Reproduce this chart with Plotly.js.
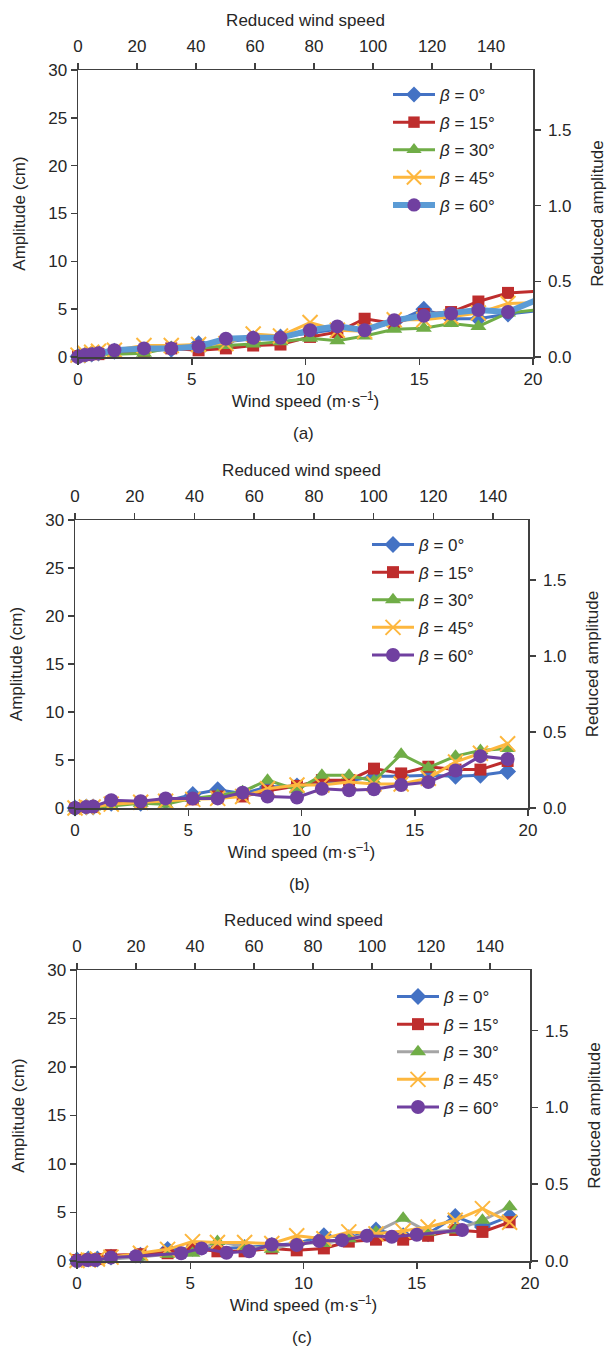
<!DOCTYPE html>
<html>
<head>
<meta charset="utf-8">
<script src="https://cdn.plot.ly/plotly-3.0.1.min.js"></script>
<style>
  html, body { margin: 0; padding: 0; background: #fff; }
  #chart { width: 608px; height: 1350px; }
</style>
</head>
<body>
<div id="chart"></div>
<script>
// ---- Data: amplitude (cm) against wind speed (m/s) for five yaw angles ----
const seriesNames = ['<i>β</i> = 0°', '<i>β</i> = 15°', '<i>β</i> = 30°', '<i>β</i> = 45°', '<i>β</i> = 60°'];

// (a)
const windA = [0, 0.3, 0.6, 0.9, 1.6, 2.9, 4.1, 5.3, 6.5, 7.7, 8.9, 10.2, 11.4, 12.6, 13.9, 15.2, 16.4, 17.6, 18.9, 20.4];
const ampA0  = [0.05, 0.2, 0.3, 0.4, 0.6, 0.7, 0.8, 1.4, 1.6, 1.9, 2.1, 2.5, 2.9, 2.9, 3.6, 5.0, 4.0, 4.0, 4.5, 4.9];
const ampA15 = [0.1, 0.2, 0.3, 0.3, 0.5, 0.6, 0.9, 0.7, 0.9, 1.2, 1.3, 2.1, 2.6, 4.0, 3.5, 4.5, 4.7, 5.8, 6.7, 6.9];
const ampA30 = [0, 0.1, 0.2, 0.3, 0.3, 0.4, 1.0, 0.9, 1.2, 1.35, 1.6, 1.95, 1.7, 2.2, 2.9, 3.0, 3.5, 3.2, 4.6, 5.0];
const ampA45 = [0.2, 0.4, 0.5, 0.6, 0.7, 1.2, 1.2, 1.3, 1.4, 2.4, 2.2, 3.6, 2.8, 2.7, 3.9, 3.9, 4.2, 4.6, 5.6, 5.7];
const ampA60 = [0, 0.2, 0.3, 0.4, 0.7, 0.9, 0.9, 1.1, 1.9, 2.0, 2.0, 2.8, 3.2, 2.8, 3.85, 4.3, 4.55, 4.9, 4.7, 6.2];

// (b)
const windB = [0, 0.5, 0.8, 1.6, 2.9, 4.0, 5.2, 6.3, 7.4, 8.5, 9.8, 10.9, 12.1, 13.2, 14.4, 15.6, 16.8, 17.9, 19.1];
const ampB0  = [0, 0.1, 0.1, 0.5, 0.5, 0.7, 1.4, 1.9, 1.5, 2.2, 2.3, 2.6, 2.8, 3.3, 3.3, 3.4, 3.3, 3.4, 3.8];
const ampB15 = [0, 0.1, 0.1, 0.6, 0.6, 0.8, 0.9, 1.2, 1.2, 1.8, 2.3, 2.9, 2.9, 4.1, 3.6, 4.3, 4.0, 4.0, 4.9];
const ampB30 = [0, 0.1, 0.1, 0.2, 0.5, 0.4, 1.0, 1.3, 1.7, 2.9, 1.9, 3.4, 3.4, 2.8, 5.6, 4.2, 5.4, 6.0, 6.2];
const ampB45 = [0, 0.1, 0.1, 0.4, 0.6, 0.7, 0.9, 1.0, 1.2, 2.0, 2.4, 2.4, 2.7, 2.5, 2.5, 3.1, 4.8, 5.7, 6.7];
const ampB60 = [0, 0.1, 0.15, 0.8, 0.7, 1.0, 1.0, 1.0, 1.6, 1.2, 1.1, 2.0, 1.85, 1.95, 2.4, 2.7, 3.9, 5.4, 5.1];

// (c)
const windC = [0, 0.5, 0.9, 1.5, 2.8, 4.0, 5.1, 6.2, 7.4, 8.6, 9.7, 10.9, 12.0, 13.2, 14.4, 15.5, 16.7, 17.9, 19.1];
const ampC0  = [0.1, 0.2, 0.2, 0.4, 0.6, 1.2, 1.3, 1.3, 1.4, 1.6, 1.8, 2.6, 2.4, 3.2, 2.6, 2.8, 4.6, 3.5, 4.6];
const ampC15 = [0.1, 0.2, 0.2, 0.6, 0.7, 0.8, 1.3, 1.0, 1.0, 1.3, 1.1, 1.3, 2.0, 2.2, 2.2, 2.6, 3.2, 3.0, 4.0];
const ampC30 = [0, 0.1, 0.1, 0.2, 0.4, 0.7, 0.8, 2.0, 1.5, 1.2, 1.9, 1.8, 2.3, 3.0, 4.4, 3.0, 3.2, 4.2, 5.6];
const ampC45 = [0.05, 0.1, 0.2, 0.4, 0.8, 1.2, 2.0, 1.9, 1.9, 1.8, 2.6, 2.3, 3.0, 2.8, 3.1, 3.5, 4.2, 5.4, 4.0];
const windC60 = [0, 0.45, 0.8, 1.5, 2.6, 4.6, 5.5, 6.6, 7.6, 8.6, 9.7, 10.7, 11.7, 12.8, 13.9, 15.0, 17.0];
const ampC60  = [0, 0.1, 0.1, 0.35, 0.5, 0.8, 1.3, 0.85, 1.0, 1.7, 1.65, 2.05, 2.15, 2.6, 2.5, 2.7, 3.2];

// Axis scales
const windMax = 20, ampMax = 30;
const reducedWindMax = [154.2, 151.7, 153.6];
const reducedAmpMax = 1.895;
const panelLabels = ['(a)', '(b)', '(c)'];

// ---- Styles ----
const W = 608, H = 1350;
const FONT = '"Liberation Sans", Arial, sans-serif';
const TXT = '#262626';
const AX = '#404040';
const C = { blue: '#4472C4', red: '#BE2D2D', green: '#70AD47', orange: '#FDB73E',
            purple: '#7040A0', lightBlue: '#5B9BD5', gray: '#A5A5A5' };

const fx = p => p / W;
const fy = p => 1 - p / H;

// Plot-area rectangles in pixels [left, right, top, bottom]
const boxes = [[78, 533, 70, 357], [75, 528, 520, 808], [77, 530, 970, 1261]];
const legendPos = [[388, 77], [367, 527], [392, 979]];

const markerStyles = [
  { symbol: 'diamond', size: 13, color: C.blue },
  { symbol: 'square', size: 12, color: C.red },
  { symbol: 'triangle-up', size: 14, color: C.green },
  { symbol: 'x-thin', size: 15, color: C.orange, line: { color: C.orange, width: 2 } },
  { symbol: 'circle', size: 14, color: C.purple }
];
const lineColors = [
  [C.blue, C.red, C.green, C.orange, C.lightBlue],
  [C.blue, C.red, C.green, C.orange, C.purple],
  [C.blue, C.red, C.gray, C.orange, C.purple]
];
const lineWidths = [
  [3, 3, 3, 3, 6],
  [3, 3, 3, 3, 3],
  [3, 3, 3, 3, 3]
];

const panels = [
  { xs: [windA, windA, windA, windA, windA], ys: [ampA0, ampA15, ampA30, ampA45, ampA60] },
  { xs: [windB, windB, windB, windB, windB], ys: [ampB0, ampB15, ampB30, ampB45, ampB60] },
  { xs: [windC, windC, windC, windC, windC60], ys: [ampC0, ampC15, ampC30, ampC45, ampC60] }
];

const traces = [];
const layout = {
  width: W, height: H,
  margin: { l: 0, r: 0, t: 0, b: 0 },
  paper_bgcolor: '#fff', plot_bgcolor: '#fff',
  font: { family: FONT, size: 17, color: TXT },
  showlegend: true,
  annotations: []
};

const baseAxis = {
  showline: true, linecolor: AX, linewidth: 1.5,
  ticks: 'outside', ticklen: 6, tickcolor: AX, tickwidth: 1.5,
  showgrid: false, zeroline: false, fixedrange: true,
  tickfont: { family: FONT, size: 17, color: TXT }
};

panels.forEach((p, i) => {
  const xb = 'x' + (2 * i + 1), xt = 'x' + (2 * i + 2);
  const yl = 'y' + (2 * i + 1), yr = 'y' + (2 * i + 2);
  const xbKey = i === 0 ? 'xaxis' : 'xaxis' + (2 * i + 1);
  const ylKey = i === 0 ? 'yaxis' : 'yaxis' + (2 * i + 1);
  const xbRef = i === 0 ? 'x' : xb;
  const ylRef = i === 0 ? 'y' : yl;
  const legKey = i === 0 ? 'legend' : 'legend' + (i + 1);
  const [L, R, T, B] = boxes[i];

  p.ys.forEach((ys, k) => {
    const xs = p.xs[k];
    const ms = Object.assign({ opacity: 1 }, markerStyles[k]);
    if (!ms.line) ms.line = { width: 0 };
    // points beyond the axis end only continue the line
    ms.size = xs.map(v => (v > windMax ? 0 : markerStyles[k].size));
    traces.push({
      type: 'scatter', mode: 'lines+markers', opacity: 1,
      x: xs, y: ys, xaxis: xbRef, yaxis: ylRef,
      name: seriesNames[k], legend: legKey, legendgroup: 'p' + i + 's' + k,
      line: { color: lineColors[i][k], width: lineWidths[i][k] },
      marker: ms, cliponaxis: false, hoverinfo: 'x+y'
    });
  });
  // secondary (reduced) scales on top and right
  traces.push({ type: 'scatter', mode: 'markers', x: [], y: [], xaxis: xt, yaxis: yr,
                showlegend: false, hoverinfo: 'skip' });

  layout[xbKey] = Object.assign({}, baseAxis, {
    domain: [fx(L), fx(R)], range: [0, windMax], dtick: 5, anchor: ylRef,
    title: { text: 'Wind speed (m·s<sup>–1</sup>)', font: { size: 17, color: TXT }, standoff: 4 }
  });
  layout[ylKey] = Object.assign({}, baseAxis, {
    domain: [fy(B), fy(T)], range: [0, ampMax], dtick: 5, anchor: xbRef,
    title: { text: 'Amplitude (cm)', font: { size: 17, color: TXT }, standoff: 18 }
  });
  layout['xaxis' + (2 * i + 2)] = Object.assign({}, baseAxis, {
    overlaying: xbRef, side: 'top', anchor: ylRef, range: [0, reducedWindMax[i]], dtick: 20,
    ticklabelstandoff: 4,
    title: { text: 'Reduced wind speed', font: { size: 17, color: TXT }, standoff: 6 }
  });
  layout['yaxis' + (2 * i + 2)] = Object.assign({}, baseAxis, {
    overlaying: ylRef, side: 'right', anchor: xbRef, range: [0, reducedAmpMax], dtick: 0.5,
    tickformat: '.1f', ticklabelstandoff: 4,
    title: { text: 'Reduced amplitude', font: { size: 17, color: TXT }, standoff: 20 }
  });

  layout[legKey] = {
    x: fx(legendPos[i][0]), y: fy(legendPos[i][1]), xanchor: 'left', yanchor: 'top',
    bgcolor: 'rgba(0,0,0,0)', borderwidth: 0, traceorder: 'grouped', tracegroupgap: 2.5,
    itemwidth: 42,
    font: { family: FONT, size: 17, color: TXT }, itemclick: false, itemdoubleclick: false
  };

  layout.annotations.push({
    text: panelLabels[i], xref: 'paper', yref: 'paper', showarrow: false,
    x: fx((L + R) / 2 - 2), y: fy(B + 76), xanchor: 'center', yanchor: 'middle',
    font: { family: FONT, size: 17, color: TXT }
  });
});

Plotly.newPlot('chart', traces, layout, { displayModeBar: false, staticPlot: true });
</script>
</body>
</html>
